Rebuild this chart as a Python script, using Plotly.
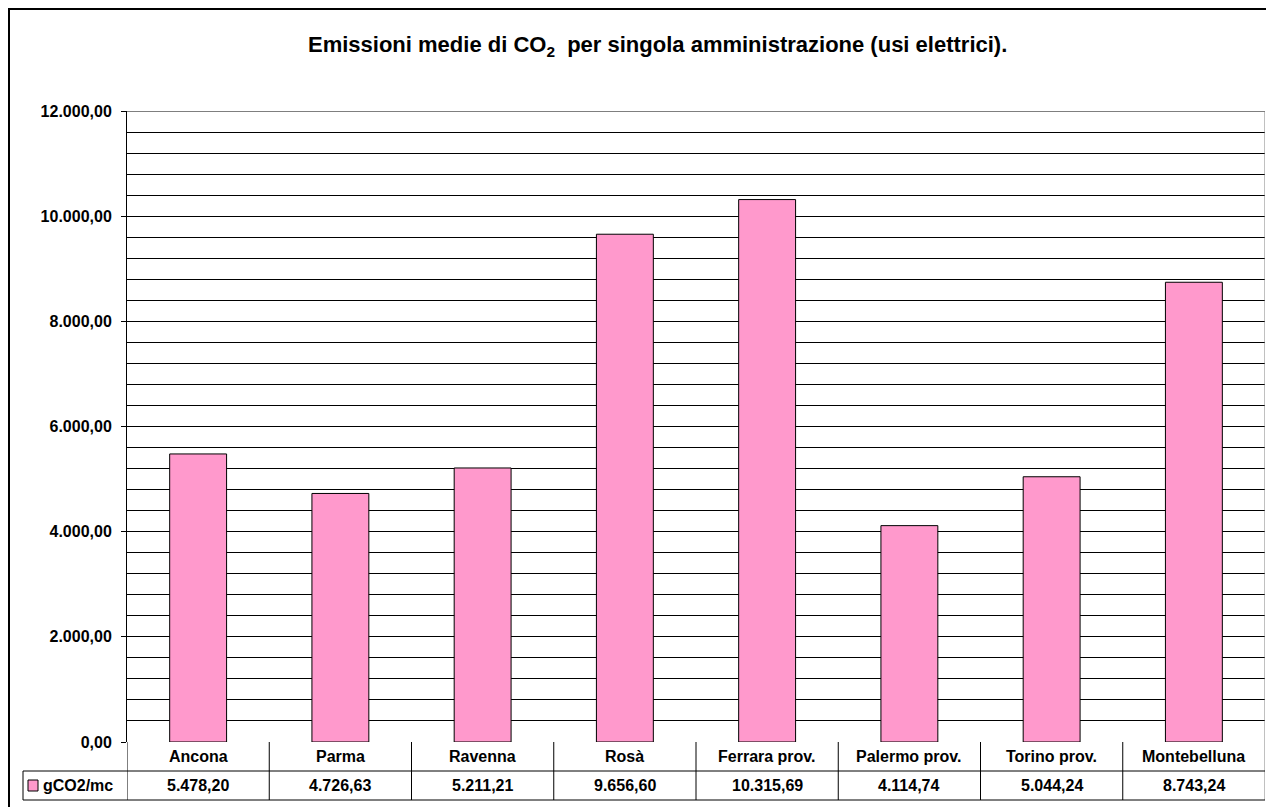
import plotly.graph_objects as go

# Dati: emissioni medie di CO2 per amministrazione (usi elettrici)
categories = ["Ancona", "Parma", "Ravenna", "Rosà", "Ferrara prov.",
              "Palermo prov.", "Torino prov.", "Montebelluna"]
values = [5478.20, 4726.63, 5211.21, 9656.60, 10315.69, 4114.74, 5044.24, 8743.24]
series_name = "gCO2/mc"
y_ticks = [0, 2000, 4000, 6000, 8000, 10000, 12000]

W, H = 1266, 807
L, R, T, B = 127, 1265, 111, 742          # plot area in pixels
PW, PH = R - L, B - T

FONT = "Liberation Sans, Arial, sans-serif"
PINK = "#FF99CC"


def it_fmt(v):
    s = f"{v:,.2f}"
    return s.replace(",", "X").replace(".", ",").replace("X", ".")


def px_x(px):
    return (px - L) / PW


def px_y(py):
    return (B - py) / PH


fig = go.Figure()
fig.add_trace(go.Bar(
    x=categories, y=values, name=series_name, width=0.4,
    marker=dict(color=PINK, line=dict(color="black", width=1)),
    showlegend=False,
))

row1_bot = px_y(771)
row2_bot = px_y(800)
n = len(categories)
shapes = []

# outer chart border
shapes.append(dict(type="rect", xref="paper", yref="paper",
                   x0=px_x(9), x1=px_x(1275), y0=px_y(815), y1=px_y(9),
                   line=dict(color="black", width=2), layer="below"))
# top gridline at the axis maximum
shapes.append(dict(type="line", xref="paper", yref="y",
                   x0=0, x1=1, y0=y_ticks[-1], y1=y_ticks[-1],
                   line=dict(color="black", width=1)))
# data table lines
for i in range(n):
    shapes.append(dict(type="line", xref="x", yref="paper",
                       x0=i - 0.5, x1=i - 0.5, y0=0, y1=row2_bot,
                       line=dict(color="black", width=1)))
shapes.append(dict(type="line", xref="x", yref="paper",
                   x0=n - 0.5, x1=n - 0.5, y0=row2_bot, y1=1,
                   line=dict(color="#808080", width=1)))
for yy in (row1_bot, row2_bot):
    shapes.append(dict(type="line", xref="paper", yref="paper",
                       x0=px_x(23), x1=1, y0=yy, y1=yy,
                       line=dict(color="black", width=1)))
shapes.append(dict(type="line", xref="paper", yref="paper",
                   x0=px_x(23), x1=px_x(23), y0=row1_bot, y1=row2_bot,
                   line=dict(color="black", width=1)))
# legend key
shapes.append(dict(type="rect", xref="paper", yref="paper",
                   x0=px_x(28), x1=px_x(38), y0=px_y(791), y1=px_y(780),
                   fillcolor=PINK, line=dict(color="black", width=1)))

annotations = []
tf = dict(family=FONT, size=16, color="black")
for c, v in zip(categories, values):
    annotations.append(dict(x=c, y=(0 + row1_bot) / 2, xref="x", yref="paper",
                            text=f"<b>{c}</b>", showarrow=False, font=tf,
                            xanchor="center", yanchor="middle"))
    annotations.append(dict(x=c, y=(row1_bot + row2_bot) / 2, xref="x", yref="paper",
                            text=f"<b>{it_fmt(v)}</b>", showarrow=False, font=tf,
                            xanchor="center", yanchor="middle"))
annotations.append(dict(x=px_x(41), y=(row1_bot + row2_bot) / 2, xref="paper", yref="paper",
                        text=f"<b>{series_name}</b>", showarrow=False, font=tf,
                        xanchor="left", yanchor="middle"))
annotations.append(dict(x=px_x(657), y=px_y(46), xref="paper", yref="paper",
                        text="<b>Emissioni medie di CO<sub>2</sub>  per singola amministrazione (usi elettrici).</b>",
                        showarrow=False, font=dict(family=FONT, size=22, color="black"),
                        xanchor="center", yanchor="middle"))

fig.update_layout(
    width=W, height=H,
    margin=dict(l=L, r=W - R, t=T, b=H - B, pad=0),
    paper_bgcolor="white", plot_bgcolor="white",
    shapes=shapes, annotations=annotations,
    xaxis=dict(type="category", range=[-0.5, n - 0.5], showticklabels=False,
               showgrid=False, zeroline=False, showline=False, ticks=""),
    yaxis=dict(range=[0, 12000], tickvals=y_ticks,
               ticktext=[f"<b>{it_fmt(t)}</b>" for t in y_ticks],
               showgrid=True, gridcolor="black", gridwidth=1,
               minor=dict(dtick=400, showgrid=True, gridcolor="black", gridwidth=1),
               zeroline=False, showline=True, linecolor="black", linewidth=1,
               ticks="outside", ticklen=5, tickcolor="black",
               ticklabelstandoff=6,
               tickfont=dict(family=FONT, size=16, color="black")),
    font=dict(family=FONT),
)
fig.write_html("out.html")
